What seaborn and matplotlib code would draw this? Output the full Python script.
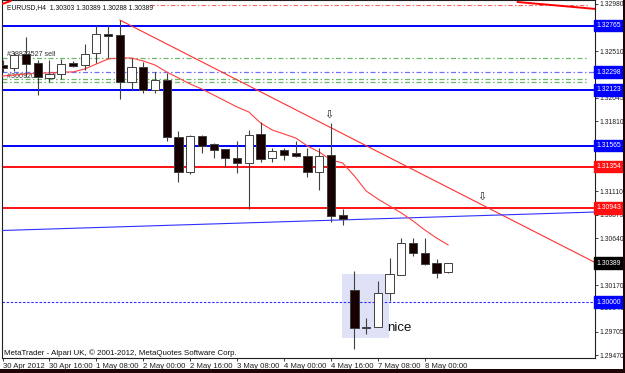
import matplotlib
matplotlib.use("Agg")
import matplotlib.pyplot as plt
from matplotlib import font_manager
import numpy as np
import pandas as pd
import seaborn as sns
from matplotlib.patches import Rectangle

# ---------------- data (EURUSD H4) ----------------
opens  = [1.3237, 1.3234, 1.3248, 1.3239, 1.3224, 1.3228, 1.3239, 1.3237, 1.3249, 1.3268,
          1.3267, 1.3220, 1.3235, 1.3212, 1.3222, 1.3165, 1.3130, 1.3166, 1.3158, 1.3153,
          1.3144, 1.3139, 1.3168, 1.3144, 1.3152, 1.3149, 1.3146, 1.3130, 1.3147, 1.3087,
          1.3012, 1.2974, 1.2975, 1.3009, 1.3027, 1.3059, 1.3049, 1.3039, 1.30303]
highs  = [1.3242, 1.3250, 1.3265, 1.3242, 1.3242, 1.3243, 1.3241, 1.3258, 1.3277, 1.3277,
          1.3282, 1.3244, 1.3240, 1.3230, 1.3229, 1.3171, 1.3167, 1.3167, 1.3159, 1.3153,
          1.3161, 1.3172, 1.3180, 1.3154, 1.3154, 1.3161, 1.3154, 1.3154, 1.3179, 1.3093,
          1.3031, 1.2984, 1.3021, 1.3044, 1.3064, 1.3064, 1.3064, 1.3043, 1.30389]
lows   = [1.3230, 1.3231, 1.3225, 1.3207, 1.3220, 1.3223, 1.3235, 1.3232, 1.3239, 1.3244,
          1.3203, 1.3212, 1.3209, 1.3209, 1.3161, 1.3120, 1.3128, 1.3149, 1.3144, 1.3135,
          1.3129, 1.3093, 1.3140, 1.3140, 1.3142, 1.3145, 1.3125, 1.3112, 1.3080, 1.3077,
          1.2953, 1.2968, 1.2975, 1.3001, 1.3027, 1.3046, 1.3037, 1.3024, 1.30288]
closes = [1.3234, 1.3247, 1.3238, 1.3225, 1.3228, 1.3238, 1.3236, 1.3248, 1.3268, 1.3266,
          1.3220, 1.3235, 1.3212, 1.3222, 1.3165, 1.3130, 1.3166, 1.3156, 1.3152, 1.3144,
          1.3139, 1.3167, 1.3143, 1.3151, 1.3147, 1.3146, 1.3130, 1.3146, 1.3086, 1.3083,
          1.2974, 1.2975, 1.3009, 1.3028, 1.3059, 1.3049, 1.3038, 1.3029, 1.30389]
ma_line = [1.3226, 1.3227, 1.3228, 1.3229, 1.3229, 1.3230, 1.3230, 1.3233, 1.3238, 1.3243,
           1.3244, 1.3244, 1.3241, 1.3237, 1.3230, 1.3224, 1.3218, 1.3213, 1.3207, 1.3201,
           1.3195, 1.3190, 1.3179, 1.3172, 1.3168, 1.3164, 1.3156, 1.3150, 1.3142, 1.3139,
           1.3126, 1.3111, 1.3103, 1.3096, 1.3089, 1.3081, 1.3072, 1.3064, 1.3057]

time_labels = ["30 Apr 2012", "30 Apr 16:00", "1 May 08:00", "2 May 00:00", "2 May 16:00",
               "3 May 08:00", "4 May 00:00", "4 May 16:00", "7 May 08:00", "8 May 00:00"]
time_label_bars = [0, 4, 8, 12, 16, 20, 24, 28, 32, 36]

price_ticks = [1.32980, 1.32510, 1.32045, 1.31810, 1.31110, 1.30875,
               1.30640, 1.30170, 1.29940, 1.29705, 1.29470]

blue_levels = [1.32765, 1.32123, 1.31565]
red_levels = [1.31354, 1.30943]
round_level = 1.30000
blue_order_level = 1.32298
green_order_levels = [1.3244, 1.3223, 1.3220]
red_order_level = 1.3297
last_price = 1.30389

# trend lines: (bar, price) anchors
red_trend_bars, red_trend_prices = [10, 50.6], [1.3282, 1.3039]
blue_trend_bars, blue_trend_prices = [-0.05, 50.6], [1.30715, 1.3090]
top_trend_bars, top_trend_prices = [43.9, 50.6], [1.3300, 1.3293]
corner_trend_bars, corner_trend_prices = [-0.3, 0.7], [1.3297, 1.3301]

arrow_bars, arrow_prices = [27.85, 40.9], [1.3187, 1.3105]
box_bars, box_prices = [28.94, 32.95], [1.2964, 1.3028]
note_bar, note_price, note_text = 32.8, 1.2974, "nice"
order_texts = ["#38873527 sell", "#36092048 sell"]
order_text_prices = [1.3248, 1.3226]

title_text = "EURUSD,H4  1.30303 1.30389 1.30288 1.30389"
footer_text = "MetaTrader - Alpari UK, \u00a9 2001-2012, MetaQuotes Software Corp."

df = pd.DataFrame({"bar": np.arange(len(opens)), "open": opens, "high": highs,
                   "low": lows, "close": closes, "ma": ma_line})

# ---------------- figure ----------------
sns.set_theme(style="white")
plt.rcParams['font.family'] = ['Liberation Sans', 'DejaVu Sans']

installed = {f.name for f in font_manager.fontManager.ttflist}
narrow = 'Liberation Sans Narrow' if 'Liberation Sans Narrow' in installed else 'Liberation Sans'
small_fs = 6.0 if narrow == 'Liberation Sans Narrow' else 4.9

fig = plt.figure(figsize=(6.25, 3.73), dpi=100, facecolor='white')
ax = fig.add_axes([2/625, 15/373, 593/625, 358/373])
ax.set_facecolor('white')
ax.set_xlim(-0.043, 50.51)
ax.set_ylim(1.2944, 1.3302)

# horizontal levels
for lv in blue_levels:
    ax.axhline(lv, color='#0000ff', lw=1.4, zorder=2)
for lv in red_levels:
    ax.axhline(lv, color='#ff1010', lw=1.4, zorder=2)
ax.axhline(round_level, color='#3030ff', lw=0.8, ls=(0, (2.2, 1.5)), zorder=2)
ax.axhline(blue_order_level, xmax=1.0, color='#7070ff', lw=0.9, ls=(0, (4, 2, 1.2, 2)), zorder=2)
for lv in green_order_levels:
    ax.axhline(lv, xmax=0.988, color='#6cb86c', lw=0.9, ls=(0, (4, 2, 1.2, 2)), zorder=2)
ax.axhline(red_order_level, xmin=0.25, xmax=0.988, color='#ff6060', lw=0.8,
           ls=(0, (4, 2, 1.2, 2)), zorder=2)

# highlight rectangle
ax.add_patch(Rectangle((box_bars[0], box_prices[0]), box_bars[1] - box_bars[0],
                       box_prices[1] - box_prices[0], facecolor='#dfe2f7',
                       edgecolor='none', zorder=1))

# trend lines
ax.plot(red_trend_bars, red_trend_prices, color='#ff3030', lw=0.8, zorder=3)
ax.plot(blue_trend_bars, blue_trend_prices, color='#3030ff', lw=0.8, zorder=3)
ax.plot(top_trend_bars, top_trend_prices, color='#ff0000', lw=1.4, zorder=3)
ax.plot(corner_trend_bars, corner_trend_prices, color='#ff0000', lw=1.4, zorder=3)

# moving average
sns.lineplot(data=df, x="bar", y="ma", color='#ff4040', lw=0.8, ax=ax, zorder=3)

# order texts
for t, p in zip(order_texts, order_text_prices):
    ax.text(0.4, p, t, fontsize=small_fs * 1.05, family=[narrow, 'DejaVu Sans'],
            color='#303030', va='center', ha='left', zorder=2)

# candles
bull = df["close"] >= df["open"]
edge = '#404040'
ax.vlines(df["bar"], df["low"], df["high"], color=edge, lw=0.8, zorder=4)
body_bottom = np.minimum(df["open"], df["close"])
body_h = np.maximum(np.abs(df["close"] - df["open"]), 0.00008)
ax.bar(df["bar"][bull], body_h[bull], bottom=body_bottom[bull], width=0.7,
       color='white', edgecolor=edge, lw=0.7, zorder=5)
ax.bar(df["bar"][~bull], body_h[~bull], bottom=body_bottom[~bull], width=0.7,
       color='#160000', edgecolor=edge, lw=0.7, zorder=5)

# arrows
for b, p in zip(arrow_bars, arrow_prices):
    ax.text(b, p, "\u21e9", fontsize=8, ha='center', va='center', color='#202020',
            family=['DejaVu Sans'], zorder=6)

# note
ax.text(note_bar, note_price, note_text, fontsize=9.5, ha='left', va='center',
        color='#101010', zorder=6)

# title & footer
ax.text(5/593, 0.980, title_text, transform=ax.transAxes, fontsize=small_fs,
        family=[narrow, 'DejaVu Sans'], ha='left', va='center', color='#101010', zorder=7)
ax.text(2/593, 0.0126, footer_text, transform=ax.transAxes, fontsize=5.7,
        family=['Liberation Sans', 'DejaVu Sans'], ha='left', va='center',
        color='#101010', zorder=7)

# axes / ticks
ax.set_xlabel("")
ax.set_ylabel("")
for s in ax.spines.values():
    s.set_color('#202020')
    s.set_linewidth(0.8)
    s.set_visible(True)
ax.yaxis.tick_right()
ax.set_yticks(price_ticks)
ax.set_yticklabels([f"{v:.5f}" for v in price_ticks])
ax.tick_params(axis='y', which='both', right=True, left=False, direction='out',
               length=2.2, width=0.6, pad=1, labelsize=small_fs, colors='#202020')
ax.set_xticks(time_label_bars)
ax.set_xticklabels(time_labels, ha='left')
ax.tick_params(axis='x', bottom=True, direction='out', length=2, width=0.6,
               pad=1.5, labelsize=5.6, colors='#202020')
for lbl in ax.get_yticklabels():
    lbl.set_family([narrow, 'DejaVu Sans'])
for lbl in ax.get_xticklabels():
    lbl.set_family(['Liberation Sans', 'DejaVu Sans'])

# price boxes on axis
ytr = ax.get_yaxis_transform()
box_specs = ([(lv, '#0000ff') for lv in blue_levels] + [(blue_order_level, '#0000ff'),
             (round_level, '#0000ff')] + [(lv, '#ff1010') for lv in red_levels] +
             [(last_price, '#000000')])
for lv, col in box_specs:
    ax.text(1.0025, lv, f"{lv:.5f}", transform=ytr, fontsize=small_fs, color='white',
            family=[narrow, 'DejaVu Sans'], ha='left', va='center', zorder=8, clip_on=False,
            bbox=dict(boxstyle='square,pad=0.35', facecolor=col, edgecolor=col))

# outer frame bands
fig.patches.append(Rectangle((0, 0), 1, 4/373, transform=fig.transFigure,
                             facecolor='#1e0404', edgecolor='none', zorder=0))
fig.patches.append(Rectangle((623/625, 0), 2/625, 1, transform=fig.transFigure,
                             facecolor='#1e0404', edgecolor='none', zorder=0))

fig.savefig("out.png", dpi=100, facecolor='white')
